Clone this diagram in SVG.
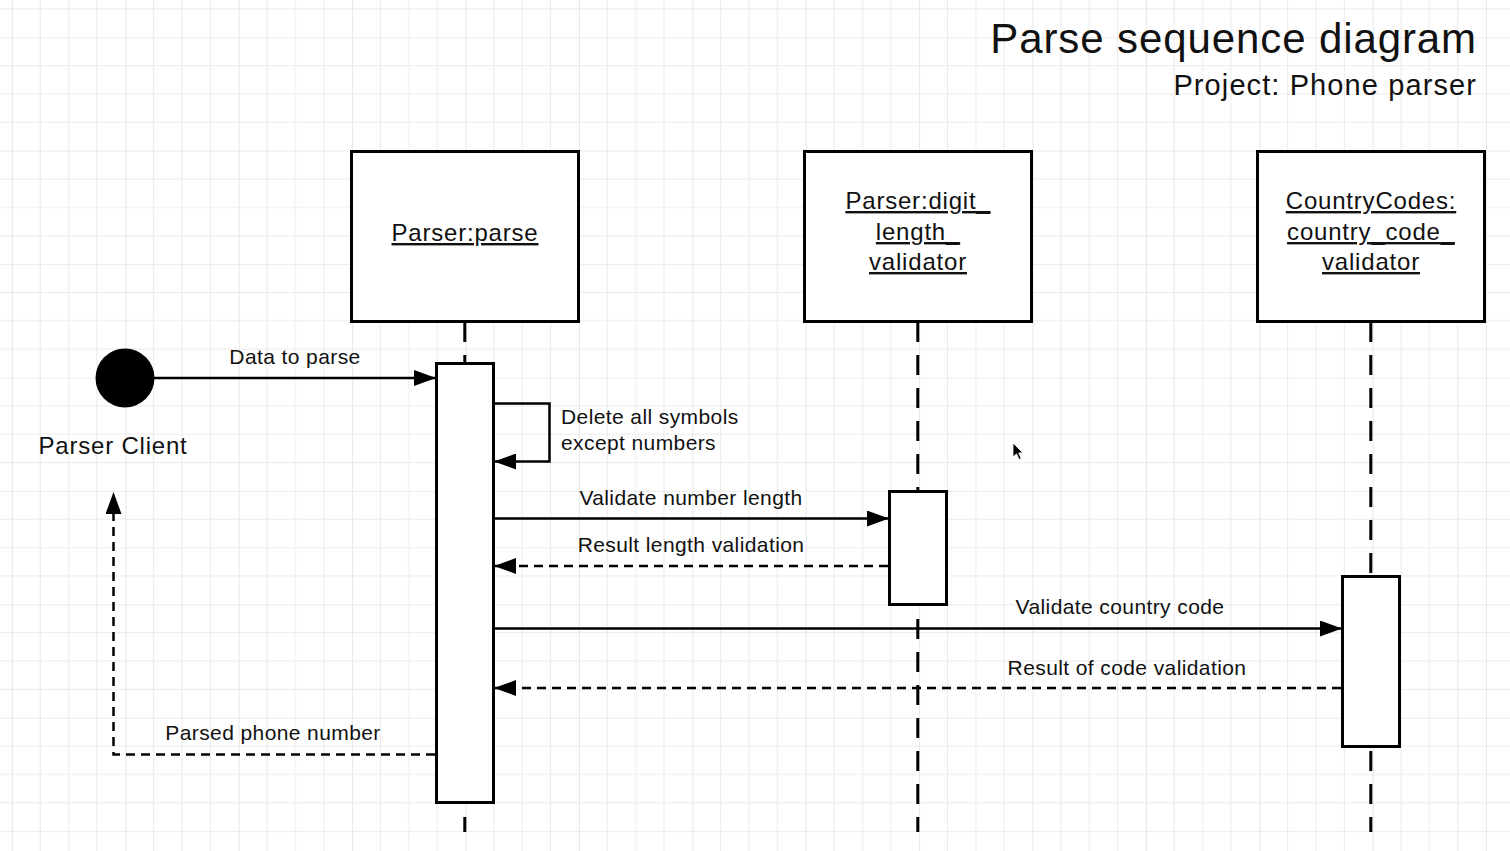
<svg xmlns="http://www.w3.org/2000/svg" width="1510" height="851" viewBox="0 0 1510 851">
  <style>
    .txt { font-family: "Liberation Sans", Arial, sans-serif; fill: #111; }
    .title { font-size: 42px; letter-spacing: 0.9px; }
    .subtitle { font-size: 29px; letter-spacing: 1.1px; }
    .head { font-size: 24px; letter-spacing: 0.8px; text-decoration: underline; }
    .actor { font-size: 24px; letter-spacing: 0.8px; }
    .msg { font-size: 21px; letter-spacing: 0.4px; }
    .box { fill: #fff; stroke: #000; stroke-width: 3; }
    .life { stroke: #000; stroke-width: 3; stroke-dasharray: 20 13; fill: none; }
    .call { stroke: #000; stroke-width: 2.5; fill: none; marker-end: url(#arrow); }
    .ret { stroke: #000; stroke-width: 2.5; fill: none; stroke-dasharray: 9 6; marker-end: url(#arrow); }
  </style>
  <defs>
    <pattern id="grid" patternUnits="userSpaceOnUse" x="11.9" y="37.3" width="113.4" height="113.4">
      <g stroke="#ebebeb" stroke-width="1">
        <line x1="28.35" y1="0" x2="28.35" y2="113.4"/>
        <line x1="56.7" y1="0" x2="56.7" y2="113.4"/>
        <line x1="85.05" y1="0" x2="85.05" y2="113.4"/>
        <line x1="0" y1="28.35" x2="113.4" y2="28.35"/>
        <line x1="0" y1="56.7" x2="113.4" y2="56.7"/>
        <line x1="0" y1="85.05" x2="113.4" y2="85.05"/>
      </g>
      <g stroke="#d9d9d9" stroke-width="1.2">
        <line x1="0" y1="0" x2="0" y2="113.4"/>
        <line x1="0" y1="0" x2="113.4" y2="0"/>
      </g>
    </pattern>
    <marker id="arrow" markerUnits="userSpaceOnUse" markerWidth="22" markerHeight="16" refX="22" refY="8" orient="auto">
      <path d="M0,0 L22,8 L0,16 Z" fill="#000" stroke="none"/>
    </marker>
  </defs>

  <rect x="0" y="0" width="1510" height="851" fill="#fff"/>
  <rect x="0" y="0" width="1510" height="851" fill="url(#grid)"/>

  <g id="title">
    <text class="txt title" x="1477" y="53" text-anchor="end">Parse sequence diagram</text>
    <text class="txt subtitle" x="1477" y="95" text-anchor="end">Project: Phone parser</text>
  </g>

  <g id="parser-client">
    <circle cx="125" cy="378" r="29.5" fill="#000"/>
    <text class="txt actor" x="113" y="454" text-anchor="middle">Parser Client</text>
  </g>

  <g id="parser-parse">
    <line class="life" x1="464.8" y1="322" x2="464.8" y2="832"/>
    <rect class="box" x="351.5" y="151.5" width="227" height="170"/>
    <text class="txt head" x="465" y="241" text-anchor="middle">Parser:parse</text>
    <rect class="box" x="436.5" y="363.5" width="57" height="439"/>
  </g>

  <g id="parser-digit-length-validator">
    <line class="life" x1="917.8" y1="322" x2="917.8" y2="832"/>
    <rect class="box" x="804.5" y="151.5" width="227" height="170"/>
    <text class="txt head" x="918" y="209" text-anchor="middle">Parser:digit_</text>
    <text class="txt head" x="918" y="240" text-anchor="middle">length_</text>
    <text class="txt head" x="918" y="270" text-anchor="middle">validator</text>
    <rect class="box" x="889.5" y="491.5" width="57" height="113"/>
  </g>

  <g id="country-code-validator">
    <line class="life" x1="1370.8" y1="322" x2="1370.8" y2="832"/>
    <rect class="box" x="1257.5" y="151.5" width="227" height="170"/>
    <text class="txt head" x="1371" y="209" text-anchor="middle">CountryCodes:</text>
    <text class="txt head" x="1371" y="240" text-anchor="middle">country_code_</text>
    <text class="txt head" x="1371" y="270" text-anchor="middle">validator</text>
    <rect class="box" x="1342.5" y="576.5" width="57" height="170"/>
  </g>

  <g id="connectors">
    <line class="call" x1="154" y1="378" x2="436" y2="378"/>
    <text class="txt msg" x="295" y="364" text-anchor="middle">Data to parse</text>

    <path class="call" d="M495,403.5 H549.5 V461.5 H494"/>
    <text class="txt msg" x="561" y="424">Delete all symbols</text>
    <text class="txt msg" x="561" y="450">except numbers</text>

    <line class="call" x1="495" y1="518.5" x2="889" y2="518.5"/>
    <text class="txt msg" x="691" y="505" text-anchor="middle">Validate number length</text>

    <line class="ret" x1="888" y1="566" x2="494" y2="566"/>
    <text class="txt msg" x="691" y="552" text-anchor="middle">Result length validation</text>

    <line class="call" x1="495" y1="628.5" x2="1342" y2="628.5"/>
    <text class="txt msg" x="1120" y="614" text-anchor="middle">Validate country code</text>

    <line class="ret" x1="1341" y1="688" x2="494" y2="688"/>
    <text class="txt msg" x="1127" y="675" text-anchor="middle">Result of code validation</text>

    <path class="ret" d="M435,754.5 H113.5 V492"/>
    <text class="txt msg" x="273" y="740" text-anchor="middle">Parsed phone number</text>
  </g>

  <g id="cursor">
    <path d="M1013,443 L1013,457 L1016.5,453.8 L1019,459.5 L1021.2,458.5 L1018.7,452.9 L1023,452.9 Z" fill="#000" stroke="#fff" stroke-width="0.8"/>
  </g>
</svg>
